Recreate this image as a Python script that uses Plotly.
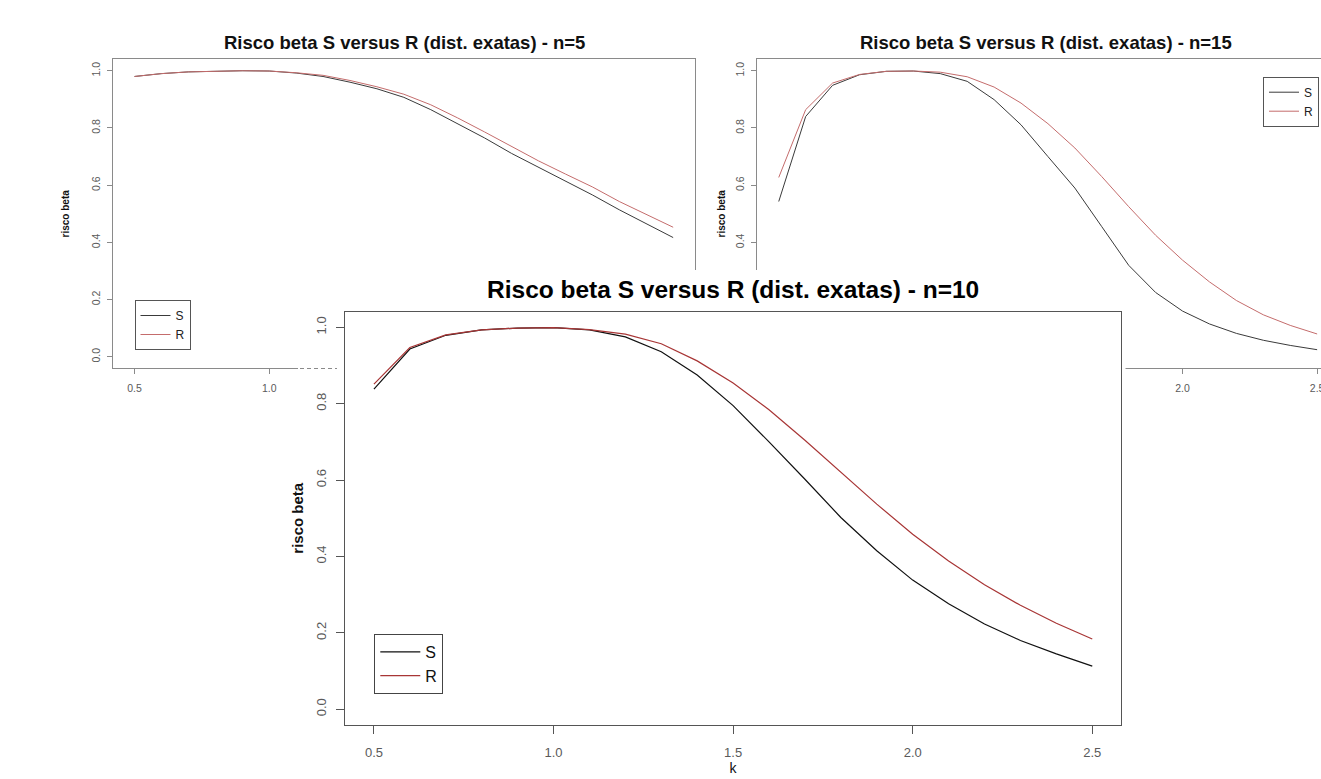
import plotly.graph_objects as go

# ---------------- data ----------------
k = [0.5, 0.6, 0.7, 0.8, 0.9, 1.0, 1.1, 1.2, 1.3, 1.4, 1.5,
     1.6, 1.7, 1.8, 1.9, 2.0, 2.1, 2.2, 2.3, 2.4, 2.5]

s_n5 = [0.980, 0.990, 0.996, 0.999, 1.000, 0.999, 0.992, 0.980, 0.960, 0.937, 0.907,
        0.864, 0.815, 0.765, 0.711, 0.662, 0.613, 0.566, 0.514, 0.466, 0.417]
r_n5 = [0.980, 0.990, 0.996, 0.999, 1.000, 0.999, 0.993, 0.984, 0.966, 0.944, 0.918,
        0.881, 0.835, 0.786, 0.735, 0.685, 0.639, 0.594, 0.543, 0.499, 0.453]

s_n10 = [0.838, 0.943, 0.979, 0.993, 0.998, 0.999, 0.993, 0.975, 0.936, 0.875, 0.795,
         0.700, 0.602, 0.502, 0.415, 0.338, 0.276, 0.223, 0.180, 0.145, 0.113]
r_n10 = [0.851, 0.947, 0.980, 0.993, 0.998, 0.999, 0.994, 0.982, 0.957, 0.912, 0.854,
         0.784, 0.704, 0.620, 0.537, 0.458, 0.388, 0.326, 0.272, 0.225, 0.184]

s_n15 = [0.543, 0.840, 0.949, 0.986, 0.998, 0.999, 0.990, 0.963, 0.899, 0.811, 0.700,
         0.590, 0.455, 0.320, 0.225, 0.160, 0.115, 0.082, 0.058, 0.040, 0.025]
r_n15 = [0.627, 0.864, 0.957, 0.987, 0.998, 0.999, 0.995, 0.979, 0.943, 0.887, 0.815,
         0.730, 0.630, 0.525, 0.425, 0.338, 0.262, 0.197, 0.147, 0.110, 0.080]

k_ticks = [0.5, 1.0, 1.5, 2.0, 2.5]
k_tick_labels = ["0.5", "1.0", "1.5", "2.0", "2.5"]
beta_ticks = [0.0, 0.2, 0.4, 0.6, 0.8, 1.0]
beta_tick_labels = ["0.0", "0.2", "0.4", "0.6", "0.8", "1.0"]

titles = {
    5: "Risco beta S versus R (dist. exatas) - n=5",
    10: "Risco beta S versus R (dist. exatas) - n=10",
    15: "Risco beta S versus R (dist. exatas) - n=15",
}
y_label = "risco beta"
x_label = "k"

# ---------------- layout geometry (pixels) ----------------
W, H = 1321, 779
FONT = "Liberation Sans, Arial, Helvetica, sans-serif"


def px_x(p):
    return p / W


def px_y(p):
    return 1 - p / H


small_box = "#8a8a8a"
big_box = "#555555"
S_small, R_small = "#3a3a3a", "#c46c6c"
S_big, R_big = "#111111", "#a83636"

fig = go.Figure()

# n=5 (x, y)
fig.add_trace(go.Scatter(x=k, y=s_n5, mode="lines", name="S", legend="legend",
                         line=dict(color=S_small, width=1), xaxis="x", yaxis="y"))
fig.add_trace(go.Scatter(x=k, y=r_n5, mode="lines", name="R", legend="legend",
                         line=dict(color=R_small, width=1), xaxis="x", yaxis="y"))
# n=15 (x2, y2)
fig.add_trace(go.Scatter(x=k, y=s_n15, mode="lines", name="S", legend="legend3",
                         line=dict(color=S_small, width=1), xaxis="x2", yaxis="y2"))
fig.add_trace(go.Scatter(x=k, y=r_n15, mode="lines", name="R", legend="legend3",
                         line=dict(color=R_small, width=1), xaxis="x2", yaxis="y2"))
# cover panel (x3, y3): white sheet of the pasted n=10 picture
fig.add_trace(go.Scatter(x=[], y=[], mode="lines", showlegend=False, hoverinfo="skip",
                         xaxis="x3", yaxis="y3"))
# n=10 (x4, y4)
fig.add_trace(go.Scatter(x=k, y=s_n10, mode="lines", name="S", legend="legend2",
                         line=dict(color=S_big, width=1.2), xaxis="x4", yaxis="y4"))
fig.add_trace(go.Scatter(x=k, y=r_n10, mode="lines", name="R", legend="legend2",
                         line=dict(color=R_big, width=1.2), xaxis="x4", yaxis="y4"))


def xax(domain, rng, anchor, color, fsize, tlen, standoff, mirror=True):
    return dict(domain=domain, range=rng, anchor=anchor, tickmode="array",
                tickvals=k_ticks, ticktext=k_tick_labels, ticks="outside",
                ticklen=tlen, tickcolor=color, showline=True, linecolor=color,
                linewidth=1, mirror=mirror, showgrid=False, zeroline=False,
                automargin=False,
                tickfont=dict(family=FONT, size=fsize, color="#5a5a5a"),
                ticklabelstandoff=standoff, ticklabeloverflow="allow")


def yax(domain, anchor, color, fsize, tlen, standoff, tfs, tstand, mirror=True):
    return dict(domain=domain, range=[-0.04, 1.04], anchor=anchor, tickmode="array",
                tickvals=beta_ticks, ticktext=beta_tick_labels, ticks="outside",
                ticklen=tlen, tickcolor=color, showline=True, linecolor=color,
                linewidth=1, mirror=mirror, showgrid=False, zeroline=False,
                automargin=False, tickangle=-90,
                tickfont=dict(family=FONT, size=fsize, color="#5a5a5a"),
                ticklabelstandoff=standoff,
                title=dict(text=y_label, standoff=tstand,
                           font=dict(family=FONT, size=tfs, color="#111", weight="bold")))


top_y = [px_y(368.3), px_y(59.3)]
x15_max = 0.42 + (W - 757.2) / 269.2

layout = dict(
    template="none",
    width=W, height=H, margin=dict(l=0, r=0, t=0, b=0, autoexpand=False),
    paper_bgcolor="white", plot_bgcolor="white",
    font=dict(family=FONT, color="#111"),
    xaxis=xax([px_x(113), px_x(694.7)], [0.42, 2.58], "y", small_box, 10.5, 5, 5),
    yaxis=yax(top_y, "x", small_box, 10.5, 5, 3, 10, 18),
    xaxis2=xax([px_x(757.2), 1.0], [0.42, x15_max], "y2", small_box, 10.5, 5, 5),
    yaxis2=yax(top_y, "x2", small_box, 10.5, 5, 3, 10, 6, mirror=False),
    xaxis3=dict(domain=[px_x(298), px_x(1125.5)], range=[0, 1], anchor="y3",
                visible=False, fixedrange=True, automargin=False),
    yaxis3=dict(domain=[0, px_y(270)], range=[0, 1], anchor="x3",
                visible=False, fixedrange=True, automargin=False),
    xaxis4=xax([px_x(345.2), px_x(1121)], [0.42, 2.58], "y4", big_box, 13, 8, 8),
    yaxis4=yax([px_y(724.5), px_y(312)], "x4", big_box, 13, 8, 5, 15, 6),
    legend=dict(x=px_x(134.5), y=px_y(300), xanchor="left", yanchor="top",
                bordercolor="#555", borderwidth=1, bgcolor="white",
                font=dict(family=FONT, size=12, color="#222"), tracegroupgap=0),
    legend2=dict(x=px_x(374.3), y=px_y(634), xanchor="left", yanchor="top",
                 bordercolor="#444", borderwidth=1, bgcolor="white", itemwidth=40,
                 font=dict(family=FONT, size=16, color="#111"), tracegroupgap=0),
    legend3=dict(x=px_x(1319), y=px_y(76.7), xanchor="right", yanchor="top",
                 bordercolor="#555", borderwidth=1, bgcolor="white",
                 font=dict(family=FONT, size=12, color="#222"), tracegroupgap=0),
    showlegend=True,
)
layout["xaxis4"]["title"] = dict(text=x_label, standoff=4,
                                 font=dict(family=FONT, size=14, color="#111"))
fig.update_layout(**layout)

ann_common = dict(xref="paper", yref="paper", showarrow=False,
                  xanchor="center", yanchor="middle")
fig.add_annotation(text=titles[5], x=px_x(404), y=px_y(42.7),
                   font=dict(family=FONT, size=18.5, color="#111", weight="bold"), **ann_common)
fig.add_annotation(text=titles[15], x=px_x(1046), y=px_y(42.7),
                   font=dict(family=FONT, size=18.5, color="#111", weight="bold"), **ann_common)
fig.add_annotation(text=titles[10], x=px_x(733), y=px_y(290),
                   font=dict(family=FONT, size=24.5, color="#000", weight="bold"), **ann_common)

# faint remnant of the n=5 axis line bleeding through the pasted panel
fig.add_shape(type="line", xref="paper", yref="paper",
              x0=px_x(300), x1=px_x(337), y0=px_y(368.5), y1=px_y(368.5),
              line=dict(color="#8a8a8a", width=1, dash="4px,3px"), layer="above")

fig.write_html("out.html")
